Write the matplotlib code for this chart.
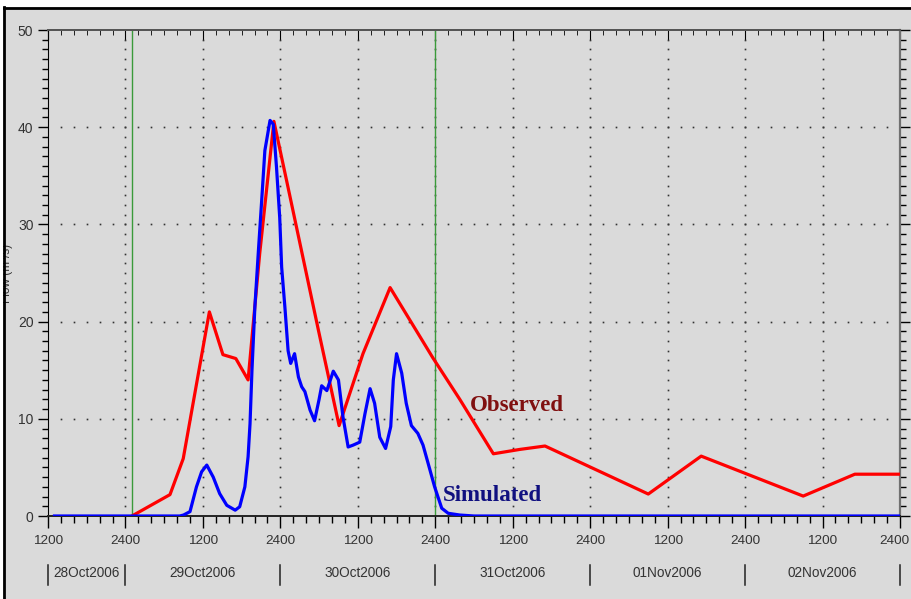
import matplotlib
matplotlib.use("Agg")
import matplotlib.pyplot as plt
from matplotlib.ticker import MultipleLocator, FixedLocator, FixedFormatter
from matplotlib.lines import Line2D
from matplotlib.patches import Rectangle
import matplotlib.transforms as mtransforms

# hours counted from 28Oct2006 1200
obs_hours = [13, 18.9, 20.95, 25.0, 27.1, 29.1, 31.0, 32.8, 35.0, 37.0, 41.9, 45.1,
             48.8, 53.0, 59.6, 63.8, 69.0, 73.1, 77.0, 93.0, 101.2, 117.0, 125.0, 132]
obs_flow = [0, 2.2, 5.9, 21.0, 16.6, 16.2, 14.0, 27.0, 40.6, 34.4, 19.1, 9.3,
            16.7, 23.5, 16.3, 12.0, 6.4, 6.85, 7.2, 2.26, 6.16, 2.05, 4.3, 4.3]

sim_hours = [1, 20.4, 21.0, 22.0, 23.0, 23.8, 24.6, 25.6, 26.6, 27.7, 29.0, 29.7,
             30.5, 31.0, 31.3, 31.6, 32.05, 32.6, 33.1, 33.6, 34.4, 34.9, 35.4, 35.9,
             36.2, 36.7, 37.2, 37.6, 38.2, 38.8, 39.3, 39.8, 40.6, 41.3, 42.0, 42.4,
             43.2, 44.2, 45.0, 45.7, 46.5, 47.3, 48.3, 49.1, 49.9, 50.6, 51.4, 52.3,
             53.1, 53.5, 54.0, 54.8, 55.5, 56.3, 57.3, 58.1, 58.9, 59.9, 61.0, 62.0,
             63.8, 66, 132]
sim_flow = [0, 0, 0.1, 0.45, 3.0, 4.55, 5.24, 4.0, 2.3, 1.1, 0.6, 0.95,
            3.0, 6.1, 9.5, 15.0, 21.5, 27.3, 32.4, 37.6, 40.7, 40.3, 35.9, 30.7,
            25.6, 21.5, 17.0, 15.7, 16.7, 14.3, 13.3, 12.8, 10.9, 9.8, 12.0, 13.4,
            12.9, 14.9, 14.0, 10.2, 7.1, 7.3, 7.6, 10.5, 13.1, 11.6, 8.1, 6.95,
            9.2, 14.0, 16.7, 14.7, 11.6, 9.3, 8.5, 7.3, 5.4, 3.0, 0.8, 0.28,
            0.1, 0, 0]

marker_hours = [13, 60]

tick_hours = list(range(0, 133, 12))
tick_labels = ["1200", "2400"] * 6
day_edges = [0, 12, 36, 60, 84, 108, 132]
day_labels = ["28Oct2006", "29Oct2006", "30Oct2006", "31Oct2006", "01Nov2006", "02Nov2006"]

bg = "#dadada"
txt = "#333333"
W, H = 911, 599

fig = plt.figure(figsize=(W / 100, H / 100), dpi=100, facecolor=bg)
ax = fig.add_axes([48 / W, 1 - 516 / H, (900 - 48) / W, (516 - 30) / H])
ax.set_facecolor(bg)
ax.set_xlim(0, 132)
ax.set_ylim(0, 50)

# dotted grid: dots at minor steps along the major lines
for xm in tick_hours[1:-1]:
    ax.plot([xm] * 49, list(range(1, 50)), ls="none", marker="s", ms=1.2,
            mew=0, color="#333333", zorder=1)
for ym in range(10, 50, 10):
    ax.plot(list(range(2, 132, 2)), [ym] * 65, ls="none", marker="s", ms=1.2,
            mew=0, color="#333333", zorder=1)

for xg in marker_hours:
    ax.axvline(xg, color="#3a9a3a", lw=1, zorder=2)

ax.plot(obs_hours, obs_flow, color="#ff0000", lw=2.3, zorder=3)
ax.plot(sim_hours, sim_flow, color="#0000ff", lw=2.3, zorder=4)

ax.text(65.3, 11.4, "Observed", color="#801010", fontsize=16.5, fontweight="bold",
        family="Liberation Serif", ha="left", va="center", zorder=5)
ax.text(61.2, 2.1, "Simulated", color="#101080", fontsize=16.5, fontweight="bold",
        family="Liberation Serif", ha="left", va="center", zorder=5)

# axes styling
ax.xaxis.set_major_locator(FixedLocator(tick_hours))
ax.xaxis.set_major_formatter(FixedFormatter(tick_labels[:-1] + [""]))
ax.xaxis.set_minor_locator(MultipleLocator(2))
ax.yaxis.set_major_locator(MultipleLocator(10))
ax.yaxis.set_minor_locator(MultipleLocator(1))
ax.tick_params(axis="x", which="major", direction="out", length=8.5, width=1,
               pad=5, labelsize=9.7, labelcolor=txt)
ax.tick_params(axis="x", which="minor", direction="out", length=5, width=1)
ax.tick_params(axis="y", which="both", left=True, right=True, direction="out",
               labelsize=10, labelcolor=txt, pad=3.5)
ax.tick_params(axis="y", which="major", length=7, width=1)
ax.tick_params(axis="y", which="minor", length=4, width=1)
for lab in ax.get_xticklabels() + ax.get_yticklabels():
    lab.set_family("Liberation Sans")

# last time label sits on the right edge; nudge it in a little
ax.annotate(tick_labels[-1], xy=(tick_hours[-1], 0), xycoords=("data", "axes fraction"),
            xytext=(-4, -13.5), textcoords="offset points", ha="center", va="top",
            fontsize=9.7, color=txt, family="Liberation Sans", annotation_clip=False)

ax.spines["left"].set_color("black")
ax.spines["bottom"].set_color("#222222")
ax.spines["bottom"].set_linewidth(1.4)
ax.spines["top"].set_color("#555555")
ax.spines["top"].set_linewidth(1.4)
ax.spines["right"].set_color("#707070")
ax.spines["right"].set_linewidth(1.6)

secx = ax.secondary_xaxis("top")
secx.xaxis.set_major_locator(FixedLocator(tick_hours))
secx.xaxis.set_minor_locator(MultipleLocator(2))
secx.tick_params(which="major", direction="in", length=7, labeltop=False)
secx.tick_params(which="minor", direction="in", length=3.5)
secx.spines["top"].set_color("#555555")
secx.spines["top"].set_linewidth(1.4)

# date row under the time labels
trans = mtransforms.blended_transform_factory(ax.transData, ax.transAxes)
for xe in day_edges:
    ax.add_line(Line2D([xe, xe], [-0.101, -0.142], color="#222222", lw=1.1,
                       transform=trans, clip_on=False))
for i, name in enumerate(day_labels):
    xc = (day_edges[i] + day_edges[i + 1]) / 2
    ax.text(xc, -0.118, name, transform=trans, ha="center", va="center",
            fontsize=9.8, color=txt, family="Liberation Sans", clip_on=False)

fig.text(7 / W, 1 - 273 / H, "Flow (m³/s)", rotation=90, ha="center", va="center",
         fontsize=8.5, color=txt, family="Liberation Sans")

# outer panel border
fig.patches.append(Rectangle((0, 0), 3 / W, 1, transform=fig.transFigure,
                             facecolor="white", edgecolor="none", zorder=10))
fig.patches.append(Rectangle((0, 1 - 7 / H), 1, 7 / H, transform=fig.transFigure,
                             facecolor="white", edgecolor="none", zorder=10))
fig.lines.append(Line2D([3.5 / W, 3.5 / W], [0, 1 - 7 / H], transform=fig.transFigure,
                        color="black", lw=2, zorder=11))
fig.lines.append(Line2D([3.5 / W, 1], [1 - 7.5 / H, 1 - 7.5 / H], transform=fig.transFigure,
                        color="black", lw=2, zorder=11))

fig.savefig("out.png", dpi=100, facecolor=bg)
